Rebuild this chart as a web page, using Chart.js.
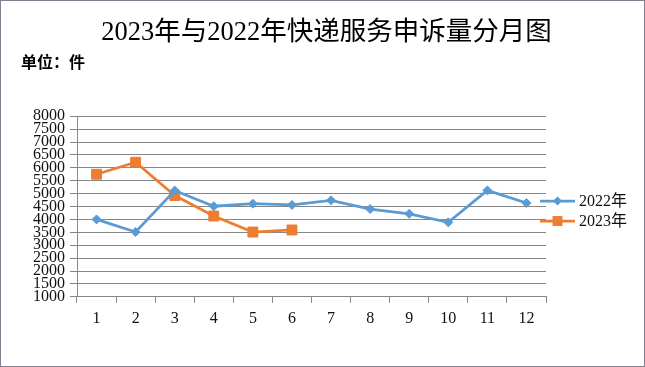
<!DOCTYPE html>
<html>
<head>
<meta charset="utf-8">
<script src="https://cdn.jsdelivr.net/npm/chart.js@4/dist/chart.umd.min.js"></script>
<style>
    html, body { margin: 0; padding: 0; background: #fff; }
    .cadre { position: relative; width: 645px; height: 367px; }
    .cadre canvas { position: absolute; left: 0; top: 0; }
    .titre { position: absolute; left: 4px; top: 16px; width: 645px; text-align: center; line-height: 30px;
             font-size: 26.5px; color: #000; font-family: 'Liberation Serif', 'Noto Sans CJK SC', serif; }
    .bordure { position: absolute; left: 0; top: 0; width: 645px; height: 367px; box-sizing: border-box; border: 1px solid #7f7f8f; pointer-events: none; }
</style>
</head>
<body>
<div class="cadre">
    <canvas id="plaintesChart" width="645" height="367"></canvas>
    <div class="titre">2023年与2022年快递服务申诉量分月图</div>
    <div class="bordure"></div>
</div>
<script>
// données
const mois = ['1', '2', '3', '4', '5', '6', '7', '8', '9', '10', '11', '12'];
const valeurs2022 = [4000, 3510, 5120, 4510, 4610, 4560, 4740, 4400, 4215, 3885, 5125, 4635];
const valeurs2023 = [5750, 6215, 4925, 4130, 3510, 3590];
const nomsSeries = ['2022年', '2023年'];

const policeSerif = "'Liberation Serif', 'Noto Sans CJK SC', serif";

// légende à droite : trait + marqueur + texte
const legendeDroite = {
    id: 'legendeDroite',
    afterDraw(chart) {
        const ctx = chart.ctx;
        const x0 = chart.chartArea.right - 6;
        let y = 201;
        chart.data.datasets.forEach(ds => {
            ctx.save();
            ctx.strokeStyle = ds.borderColor;
            ctx.lineWidth = ds.borderWidth;
            ctx.beginPath();
            ctx.moveTo(x0, y);
            ctx.lineTo(x0 + 35, y);
            ctx.stroke();
            ctx.fillStyle = ds.pointBackgroundColor;
            const cx = x0 + 17.5;
            const r = ds.pointRadius;
            ctx.beginPath();
            if (ds.pointStyle === 'rectRot') {
                ctx.moveTo(cx - r, y);
                ctx.lineTo(cx, y - r);
                ctx.lineTo(cx + r, y);
                ctx.lineTo(cx, y + r);
                ctx.closePath();
            } else {
                const s = r * Math.SQRT1_2;
                ctx.rect(cx - s, y - s, 2 * s, 2 * s);
            }
            ctx.fill();
            ctx.fillStyle = '#111';
            ctx.font = '16px ' + policeSerif;
            ctx.textBaseline = 'middle';
            ctx.textAlign = 'left';
            ctx.fillText(ds.label, x0 + 39, y + 1);
            ctx.restore();
            y += 20;
        });
    }
};

new Chart(document.getElementById('plaintesChart'), {
    type: 'line',
    data: {
        labels: mois,
        datasets: [
            {
                label: nomsSeries[0],
                data: valeurs2022,
                borderColor: '#5B9BD5',
                backgroundColor: '#5B9BD5',
                pointBackgroundColor: '#5B9BD5',
                pointBorderColor: '#5B9BD5',
                borderWidth: 2.75,
                pointStyle: 'rectRot',
                pointRadius: 4.5,
                pointBorderWidth: 1,
                tension: 0
            },
            {
                label: nomsSeries[1],
                data: valeurs2023,
                borderColor: '#ED7D31',
                backgroundColor: '#ED7D31',
                pointBackgroundColor: '#ED7D31',
                pointBorderColor: '#ED7D31',
                borderWidth: 2.75,
                pointStyle: 'rect',
                pointRadius: 7,
                pointBorderWidth: 1,
                tension: 0
            }
        ]
    },
    options: {
        responsive: false,
        animation: false,
        layout: {
            padding: { top: 45, left: 21, right: 99, bottom: 33 }
        },
        plugins: {
            legend: { display: false },
            tooltip: { enabled: false },
            title: { display: false },
            subtitle: {
                display: true,
                text: '单位：件',
                align: 'start',
                color: '#000',
                font: { size: 16, family: "'Noto Sans CJK SC', sans-serif", weight: 'bold' },
                padding: { top: 7, bottom: 45 }
            }
        },
        scales: {
            x: {
                offset: true,
                grid: {
                    offset: true,
                    drawOnChartArea: false,
                    drawTicks: true,
                    tickLength: 6,
                    color: '#868686'
                },
                border: { color: '#868686' },
                ticks: {
                    color: '#111',
                    padding: 6,
                    font: { size: 16, family: policeSerif }
                }
            },
            y: {
                min: 1000,
                max: 8000,
                grid: {
                    color: '#868686',
                    tickLength: 7
                },
                border: { color: '#868686' },
                ticks: {
                    stepSize: 500,
                    autoSkip: false,
                    color: '#111',
                    padding: 5,
                    font: { size: 16, family: policeSerif, lineHeight: 1 },
                    callback: v => String(v)
                },
                afterFit(scale) {
                    scale.width = 56;
                }
            }
        }
    },
    plugins: [legendeDroite]
});
</script>
</body>
</html>
